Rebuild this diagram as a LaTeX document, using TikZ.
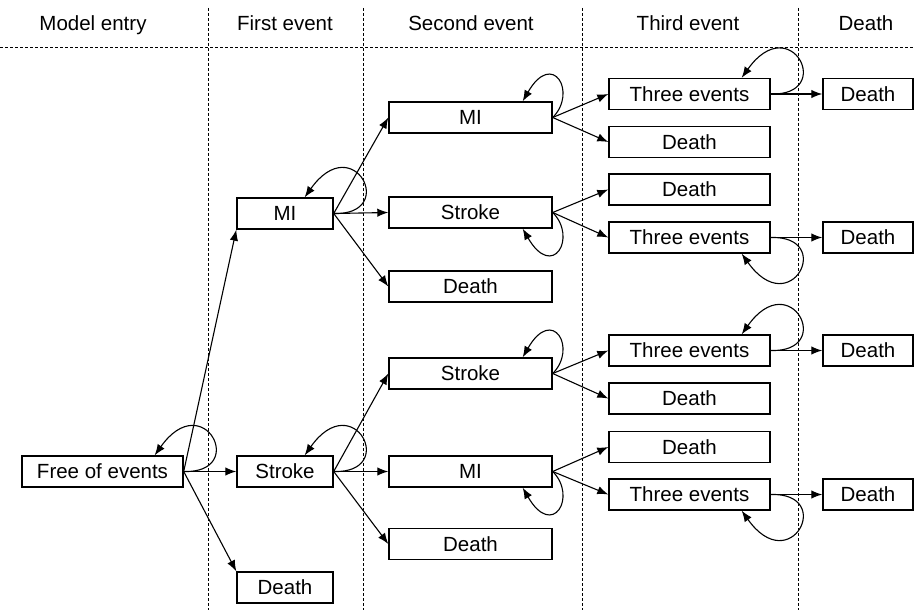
\documentclass[tikz,border=0pt]{standalone}
\usepackage{fontspec}
\setmainfont{Liberation Sans}
\usepackage{tikz}
\usetikzlibrary{arrows.meta}

\tikzset{
  evbox/.style={draw,line width=0.7pt,minimum height=15.5pt,inner sep=0pt,
    font=\fontsize{10.25}{12}\selectfont},
  entrybox/.style={evbox,minimum width=80.5pt},
  firstbox/.style={evbox,minimum width=48pt},
  secondbox/.style={evbox,minimum width=81.5pt},
  thirdbox/.style={evbox,minimum width=80.5pt},
  deathbox/.style={evbox,minimum width=45pt},
  hdr/.style={anchor=base,font=\fontsize{10.25}{12}\selectfont},
  sep/.style={line width=0.45pt,dash pattern=on 1.6pt off 0.9pt},
  arr/.style={line width=0.55pt,-{Latex[length=5.5pt,width=4.2pt]}}
}

\begin{document}
\begin{tikzpicture}[x=0.5pt,y=-0.5pt]
            \useasboundingbox (0,0) rectangle (915,610);
            % column heads and dividers
            \node[hdr] (hentry) at (93,31) {Model entry};
            \node[hdr] (hfirst) at (285,31) {First event};
            \node[hdr] (hsecond) at (471,31) {Second event};
            \node[hdr] (hthird) at (688,31) {Third event};
            \node[hdr] (hdeath) at (866,31) {Death};
            \draw[sep] (0,47) -- (915,47);
            \draw[sep] (208,8) -- (208,610);
            \draw[sep] (363,8) -- (363,610);
            \draw[sep] (582,8) -- (582,610);
            \draw[sep] (798,8) -- (798,610);
            % states
            \node[entrybox] (fe) at (102.5,471.5) {Free of events};
            \node[firstbox] (mi1) at (285,213.5) {MI};
            \node[firstbox] (st1) at (285,471.5) {Stroke};
            \node[firstbox] (de1) at (285,587.5) {Death};
            \node[secondbox] (mi2) at (470.5,117.5) {MI};
            \node[secondbox] (st2) at (470.5,212.5) {Stroke};
            \node[secondbox] (de2) at (470.5,286.5) {Death};
            \node[secondbox] (st3) at (470.5,373.5) {Stroke};
            \node[secondbox] (mi3) at (470.5,471.5) {MI};
            \node[secondbox] (de3) at (470.5,544) {Death};
            \node[thirdbox] (te1) at (689.5,94) {Three events};
            \node[thirdbox] (de4) at (689.5,142) {Death};
            \node[thirdbox] (de5) at (689.5,189.5) {Death};
            \node[thirdbox] (te2) at (689.5,237.5) {Three events};
            \node[thirdbox] (te3) at (689.5,350.5) {Three events};
            \node[thirdbox] (de6) at (689.5,398.5) {Death};
            \node[thirdbox] (de7) at (689.5,447) {Death};
            \node[thirdbox] (te4) at (689.5,494.5) {Three events};
            \node[deathbox] (de8) at (868,94) {Death};
            \node[deathbox] (de9) at (868,237.5) {Death};
            \node[deathbox] (de10) at (868,350.5) {Death};
            \node[deathbox] (de11) at (868,494.5) {Death};
            % transitions
            \draw[arr] (fe.east) -- (mi1.south west);
            \draw[arr] (fe.east) -- (st1.west);
            \draw[arr] (fe.east) -- (de1.north west);
            \draw[arr] (mi1.east) -- (mi2.west);
            \draw[arr] (mi1.east) -- (st2.west);
            \draw[arr] (mi1.east) -- (de2.west);
            \draw[arr] (st1.east) -- (st3.west);
            \draw[arr] (st1.east) -- (mi3.west);
            \draw[arr] (st1.east) -- (de3.west);
            \draw[arr] (mi2.east) -- (te1.west);
            \draw[arr] (mi2.east) -- (de4.west);
            \draw[arr] (st2.east) -- (de5.west);
            \draw[arr] (st2.east) -- (te2.west);
            \draw[arr] (st3.east) -- (te3.west);
            \draw[arr] (st3.east) -- (de6.west);
            \draw[arr] (mi3.east) -- (de7.west);
            \draw[arr] (mi3.east) -- (te4.west);
            \draw[arr] (te1.east) -- (de8.west);
            \draw[arr] (te2.east) -- (de9.west);
            \draw[arr] (te3.east) -- (de10.west);
            \draw[arr] (te4.east) -- (de11.west);
            % staying in the same state
            \draw[arr] (fe.east) .. controls +(65,2) and +(49,-69) .. ([xshift=-14.5pt]fe.north east);
            \draw[arr] (mi1.east) .. controls +(65,2) and +(49,-69) .. ([xshift=-14.5pt]mi1.north east);
            \draw[arr] (st1.east) .. controls +(65,2) and +(49,-69) .. ([xshift=-14.5pt]st1.north east);
            \draw[arr] (mi2.east) .. controls +(25,-25) and +(30,-52) .. ([xshift=-15pt]mi2.north east);
            \draw[arr] (st2.east) .. controls +(25,25) and +(30,52) .. ([xshift=-15pt]st2.south east);
            \draw[arr] (st3.east) .. controls +(25,-25) and +(30,-52) .. ([xshift=-15pt]st3.north east);
            \draw[arr] (mi3.east) .. controls +(25,25) and +(30,52) .. ([xshift=-15pt]mi3.south east);
            \draw[arr] (te1.east) .. controls +(65,2) and +(49,-69) .. ([xshift=-14.5pt]te1.north east);
            \draw[arr] (te2.east) .. controls +(65,-2) and +(49,69) .. ([xshift=-14.5pt]te2.south east);
            \draw[arr] (te3.east) .. controls +(65,2) and +(49,-69) .. ([xshift=-14.5pt]te3.north east);
            \draw[arr] (te4.east) .. controls +(65,-2) and +(49,69) .. ([xshift=-14.5pt]te4.south east);
        \end{tikzpicture}
\end{document}
